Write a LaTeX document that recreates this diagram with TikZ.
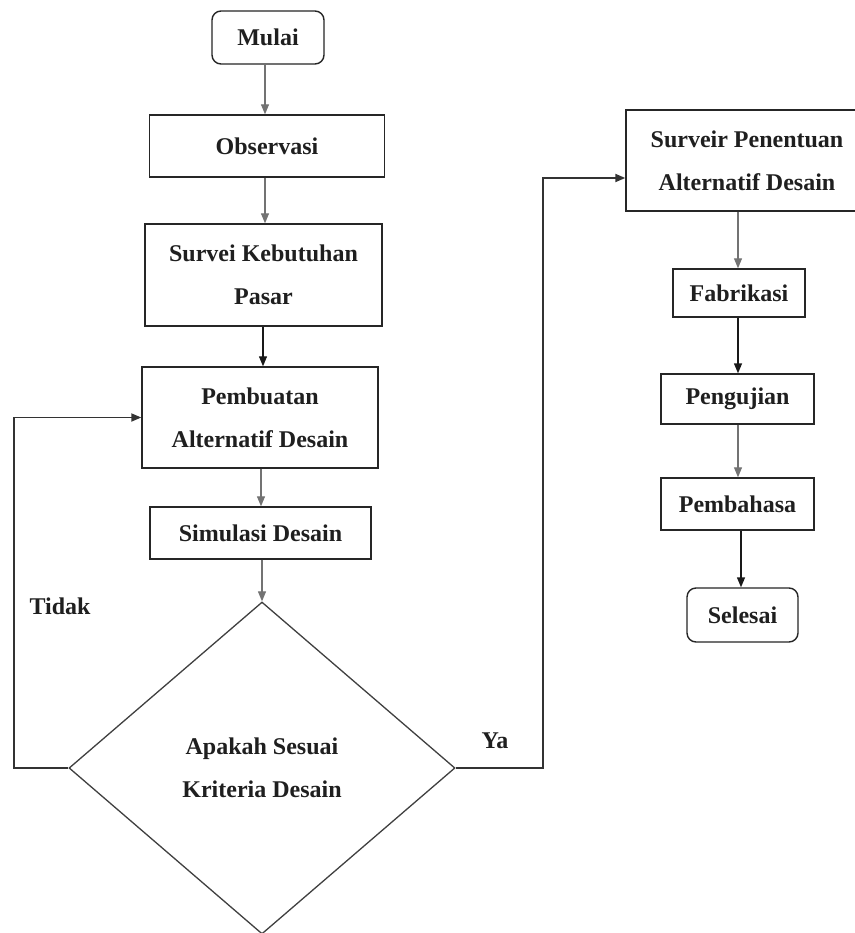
\documentclass[tikz,border=0pt]{standalone}
\usepackage{fontspec}
\setmainfont{Liberation Serif}
\usetikzlibrary{arrows.meta,shapes.geometric}
\begin{document}
\begin{tikzpicture}[x=1pt,y=-1pt,
  every node/.style={font=\bfseries\fontsize{24}{43}\selectfont, text=black!88},
  procbox/.style={draw=black!85, line width=1.4pt, rectangle, inner sep=0pt, align=center},
  termbox/.style={procbox, rounded corners=9pt},
  decbox/.style={draw=black!75, line width=1.3pt, diamond, inner sep=0pt, align=center},
  arrg/.style={draw=black!55, line width=1.1pt, -{Triangle[length=10pt,width=8pt]}},
  arrk/.style={draw=black!90, line width=1.4pt, -{Triangle[length=10pt,width=8pt]}},
  loopline/.style={draw=black!80, line width=1.8pt, -{Triangle[length=10pt,width=8pt]}},
  lbl/.style={inner sep=0pt}
]
\useasboundingbox (0,0) rectangle (854,933);
\fill[white] (0,0) rectangle (854,933);

% left column
\node[termbox, minimum width=112pt, minimum height=53pt] (mulai) at (268,37.5) {Mulai};
\node[procbox, minimum width=235pt, minimum height=62pt] (obs) at (267,146) {Observasi};
\node[procbox, minimum width=237pt, minimum height=102pt] (surv) at (263.5,275) {Survei Kebutuhan\\Pasar};
\node[procbox, minimum width=236pt, minimum height=101pt] (pemb) at (260,417.5) {Pembuatan\\Alternatif Desain};
\node[procbox, minimum width=221pt, minimum height=52pt] (sim) at (260.5,533) {Simulasi Desain};
\node[decbox, minimum width=386pt, minimum height=332pt] (dec) at (262,768) {Apakah Sesuai\\Kriteria Desain};

% right column
\node[procbox, minimum width=280pt, minimum height=101pt] (surveir) at (766,160.5)
  {\hspace*{-38pt}Surveir Penentuan\\\hspace*{-38pt}Alternatif Desain};
\node[procbox, minimum width=132pt, minimum height=48pt] (fab) at (739,293) {Fabrikasi};
\node[procbox, minimum width=153pt, minimum height=50pt] (peng) at (737.5,399) {Pengujian};
\node[procbox, minimum width=153pt, minimum height=52pt] (pemba) at (737.5,504) {Pembahasa};
\node[termbox, minimum width=111pt, minimum height=54pt] (sel) at (742.5,615) {Selesai};

% labels
\node[lbl] (tidak) at (60,606) {Tidak};
\node[lbl] (ya) at (495,741) {Ya};

% coordinates
\coordinate (c1) at (265,0);
\coordinate (c2) at (263,0);
\coordinate (c3) at (261,0);
\coordinate (c4) at (262,0);
\coordinate (r1) at (738,0);
\coordinate (r2) at (741,0);
\coordinate (yaend) at ([yshift=-17.5pt]surveir.west);
\coordinate (tx) at (14,0);
\coordinate (yx) at (543,0);

% left connectors
\draw[arrg] (c1 |- mulai.south) -- (c1 |- obs.north);
\draw[arrg] (c1 |- obs.south) -- (c1 |- surv.north);
\draw[arrk, line width=1.1pt] (c2 |- surv.south) -- (c2 |- pemb.north);
\draw[arrg] (c3 |- pemb.south) -- (c3 |- sim.north);
\draw[arrg] (c4 |- sim.south) -- (dec.north);

% right connectors
\draw[arrg] (r1 |- surveir.south) -- (r1 |- fab.north);
\draw[arrk] (r1 |- fab.south) -- (r1 |- peng.north);
\draw[arrg] (r1 |- peng.south) -- (r1 |- pemba.north);
\draw[arrk] (r2 |- pemba.south) -- (r2 |- sel.north);

% loops
\draw[loopline] (dec.west) -- (tx |- dec.west) |- (pemb.west);
\draw[loopline] (dec.east) -- (yx |- dec.east) |- (yaend);
\end{tikzpicture}
\end{document}
